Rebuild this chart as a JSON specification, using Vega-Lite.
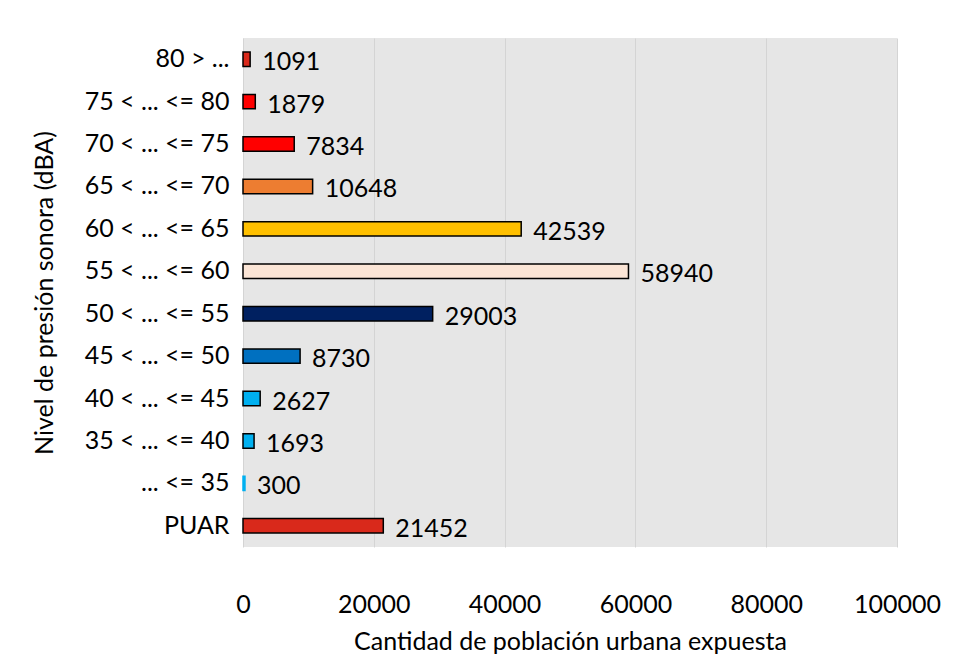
{
  "$schema": "https://vega.github.io/schema/vega-lite/v6.json",
  "width": 654,
  "height": 509,
  "autosize": {"type": "none"},
  "padding": {"left": 243, "top": 38, "right": 57, "bottom": 118},
  "background": "white",
  "config": {
    "font": "Lato",
    "view": {"fill": "#e6e6e6", "stroke": null}
  },
  "data": {
    "values": [
      {"nivel": "80 > ...", "poblacion": 1091, "color": "#d9291b", "borde": "#000000"},
      {"nivel": "75 < ... <= 80", "poblacion": 1879, "color": "#ff0000", "borde": "#000000"},
      {"nivel": "70 < ... <= 75", "poblacion": 7834, "color": "#ff0000", "borde": "#000000"},
      {"nivel": "65 < ... <= 70", "poblacion": 10648, "color": "#ed7d31", "borde": "#000000"},
      {"nivel": "60 < ... <= 65", "poblacion": 42539, "color": "#ffc000", "borde": "#000000"},
      {"nivel": "55 < ... <= 60", "poblacion": 58940, "color": "#fbe5d6", "borde": "#000000"},
      {"nivel": "50 < ... <= 55", "poblacion": 29003, "color": "#002060", "borde": "#000000"},
      {"nivel": "45 < ... <= 50", "poblacion": 8730, "color": "#0070c0", "borde": "#000000"},
      {"nivel": "40 < ... <= 45", "poblacion": 2627, "color": "#00b0f0", "borde": "#000000"},
      {"nivel": "35 < ... <= 40", "poblacion": 1693, "color": "#00b0f0", "borde": "#000000"},
      {"nivel": "... <= 35", "poblacion": 300, "color": "#00b0f0", "borde": "#00b0f0"},
      {"nivel": "PUAR", "poblacion": 21452, "color": "#d9291b", "borde": "#000000"}
    ]
  },
  "encoding": {
    "y": {
      "field": "nivel",
      "type": "nominal",
      "sort": null,
      "scale": {"paddingInner": 0.66, "paddingOuter": 0.33},
      "axis": {
        "title": "Nivel de presión sonora (dBA)",
        "titleFontSize": 25,
        "titleFontWeight": "normal",
        "titleColor": "#000000",
        "titlePadding": 27,
        "labelFontSize": 25,
        "labelColor": "#000000",
        "labelPadding": 14,
        "ticks": false,
        "domain": false,
        "grid": false
      }
    },
    "x": {
      "field": "poblacion",
      "type": "quantitative",
      "scale": {"domain": [0, 100000], "nice": false},
      "axis": {
        "title": "Cantidad de población urbana expuesta",
        "titleFontSize": 25,
        "titleFontWeight": "normal",
        "titleColor": "#000000",
        "titlePadding": 12,
        "labelFontSize": 25,
        "labelColor": "#000000",
        "labelPadding": 45,
        "values": [0, 20000, 40000, 60000, 80000, 100000],
        "format": "d",
        "labelFlush": false,
        "ticks": false,
        "domain": false,
        "grid": true,
        "gridColor": "#d4d4d4",
        "gridWidth": 1
      }
    }
  },
  "layer": [
    {
      "mark": {"type": "bar", "strokeWidth": 1.5},
      "encoding": {
        "color": {"field": "color", "type": "nominal", "scale": null, "legend": null},
        "stroke": {"field": "borde", "type": "nominal", "scale": null, "legend": null}
      }
    },
    {
      "mark": {"type": "text", "align": "left", "baseline": "middle", "dx": 12, "dy": 3, "fontSize": 25, "color": "#000000"},
      "encoding": {
        "text": {"field": "poblacion", "type": "quantitative", "format": "d"}
      }
    }
  ]
}
